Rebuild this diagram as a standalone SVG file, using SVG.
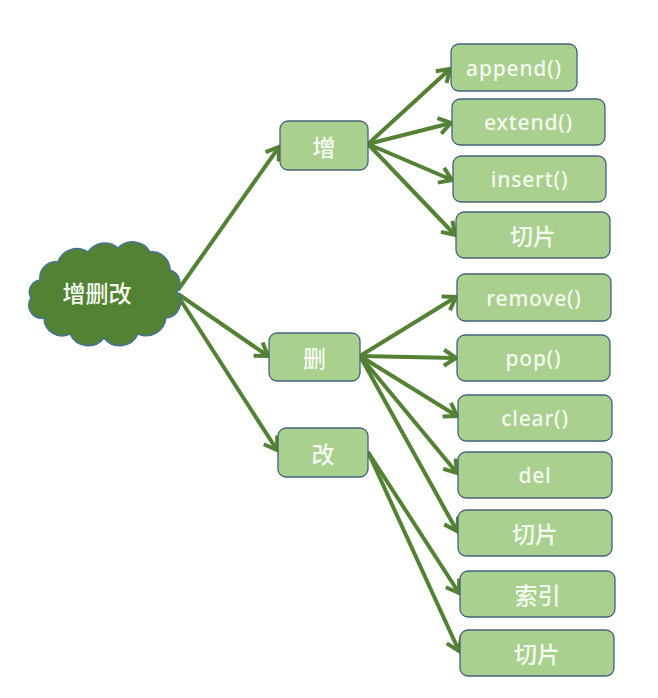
<svg xmlns="http://www.w3.org/2000/svg" width="658" height="698" viewBox="0 0 658 698">
<defs>
<style>
.box{fill:#a9d08e;stroke:#44617b;stroke-width:1.3}
.t{font-family:"Noto Sans","Noto Sans CJK SC",sans-serif;font-size:21px;fill:#f6faf1;text-anchor:middle;dominant-baseline:central;letter-spacing:0.8px;font-weight:500}
.c{font-family:"Noto Sans CJK SC",sans-serif;font-size:23px;fill:#f6faf1;text-anchor:middle;dominant-baseline:central;font-weight:500}
.ln{stroke:#548235;stroke-width:4;fill:none;marker-end:url(#ah)}
</style>
<marker id="ah" viewBox="0 0 20 20" markerWidth="20" markerHeight="20" refX="16" refY="10" orient="auto" markerUnits="userSpaceOnUse">
<path d="M4,2 L16,10 L4,18" fill="none" stroke="#548235" stroke-width="4" stroke-linejoin="miter"/>
</marker>
</defs>
<rect width="658" height="698" fill="#ffffff"/>
<g id="connectors">
<line class="ln" x1="178" y1="290" x2="279" y2="147"/>
<line class="ln" x1="178" y1="294" x2="268" y2="356"/>
<line class="ln" x1="178" y1="296" x2="277" y2="450"/>
<line class="ln" x1="368" y1="144" x2="450" y2="69"/>
<line class="ln" x1="368" y1="144" x2="451" y2="123"/>
<line class="ln" x1="368" y1="144" x2="452" y2="180"/>
<line class="ln" x1="368" y1="144" x2="455" y2="235"/>
<line class="ln" x1="360" y1="356" x2="456" y2="297"/>
<line class="ln" x1="360" y1="356" x2="456" y2="358"/>
<line class="ln" x1="360" y1="356" x2="457" y2="416"/>
<line class="ln" x1="360" y1="356" x2="457" y2="473"/>
<line class="ln" x1="360" y1="356" x2="457" y2="531"/>
<line class="ln" x1="368" y1="452" x2="459" y2="593"/>
<line class="ln" x1="368" y1="452" x2="459" y2="651"/>
</g>
<g id="root">
<path d="M40,280 A16,16 0 0 1 58,262 A20,20 0 0 1 88,252 A20,20 0 0 1 118,248 A20,20 0 0 1 150,252 A18,18 0 0 1 170,270 A14,14 0 0 1 177,292 A16,16 0 0 1 166,318 A20,20 0 0 1 138,334 A20,20 0 0 1 104,338 A20,20 0 0 1 70,334 A18,18 0 0 1 44,318 A13,13 0 0 1 31,298 A12,12 0 0 1 40,280 Z" fill="#548235" stroke="#46729a" stroke-width="1.5"/>
<text class="c" x="97" y="292" font-size="24">增删改</text>
</g>
<g id="n-add"><rect class="box" x="280" y="121" width="88" height="49" rx="8"/><text class="c" x="324" y="145.5">增</text></g>
<g id="n-del"><rect class="box" x="269" y="333" width="91" height="48" rx="8"/><text class="c" x="314.5" y="357">删</text></g>
<g id="n-mod"><rect class="box" x="278" y="428" width="90" height="49" rx="8"/><text class="c" x="323" y="452.5">改</text></g>
<g id="n-append"><rect class="box" x="451" y="44" width="126" height="47" rx="8"/><text class="t" x="514" y="67.5">append()</text></g>
<g id="n-extend"><rect class="box" x="452" y="99" width="153" height="46" rx="8"/><text class="t" x="528.5" y="122">extend()</text></g>
<g id="n-insert"><rect class="box" x="453" y="156" width="153" height="46" rx="8"/><text class="t" x="529.5" y="179">insert()</text></g>
<g id="n-slice1"><rect class="box" x="456" y="212" width="154" height="46" rx="8"/><text class="c" x="533" y="235">切片</text></g>
<g id="n-remove"><rect class="box" x="457" y="274" width="154" height="47" rx="8"/><text class="t" x="534" y="297.5">remove()</text></g>
<g id="n-pop"><rect class="box" x="457" y="335" width="153" height="46" rx="8"/><text class="t" x="533.5" y="358">pop()</text></g>
<g id="n-clear"><rect class="box" x="458" y="395" width="154" height="46" rx="8"/><text class="t" x="535" y="418">clear()</text></g>
<g id="n-delkw"><rect class="box" x="458" y="452" width="154" height="46" rx="8"/><text class="t" x="535" y="475">del</text></g>
<g id="n-slice2"><rect class="box" x="458" y="510" width="154" height="46" rx="8"/><text class="c" x="535" y="533">切片</text></g>
<g id="n-index"><rect class="box" x="460" y="571" width="155" height="46" rx="8"/><text class="c" x="537.5" y="594">索引</text></g>
<g id="n-slice3"><rect class="box" x="460" y="630" width="154" height="46" rx="8"/><text class="c" x="537" y="653">切片</text></g>
</svg>
